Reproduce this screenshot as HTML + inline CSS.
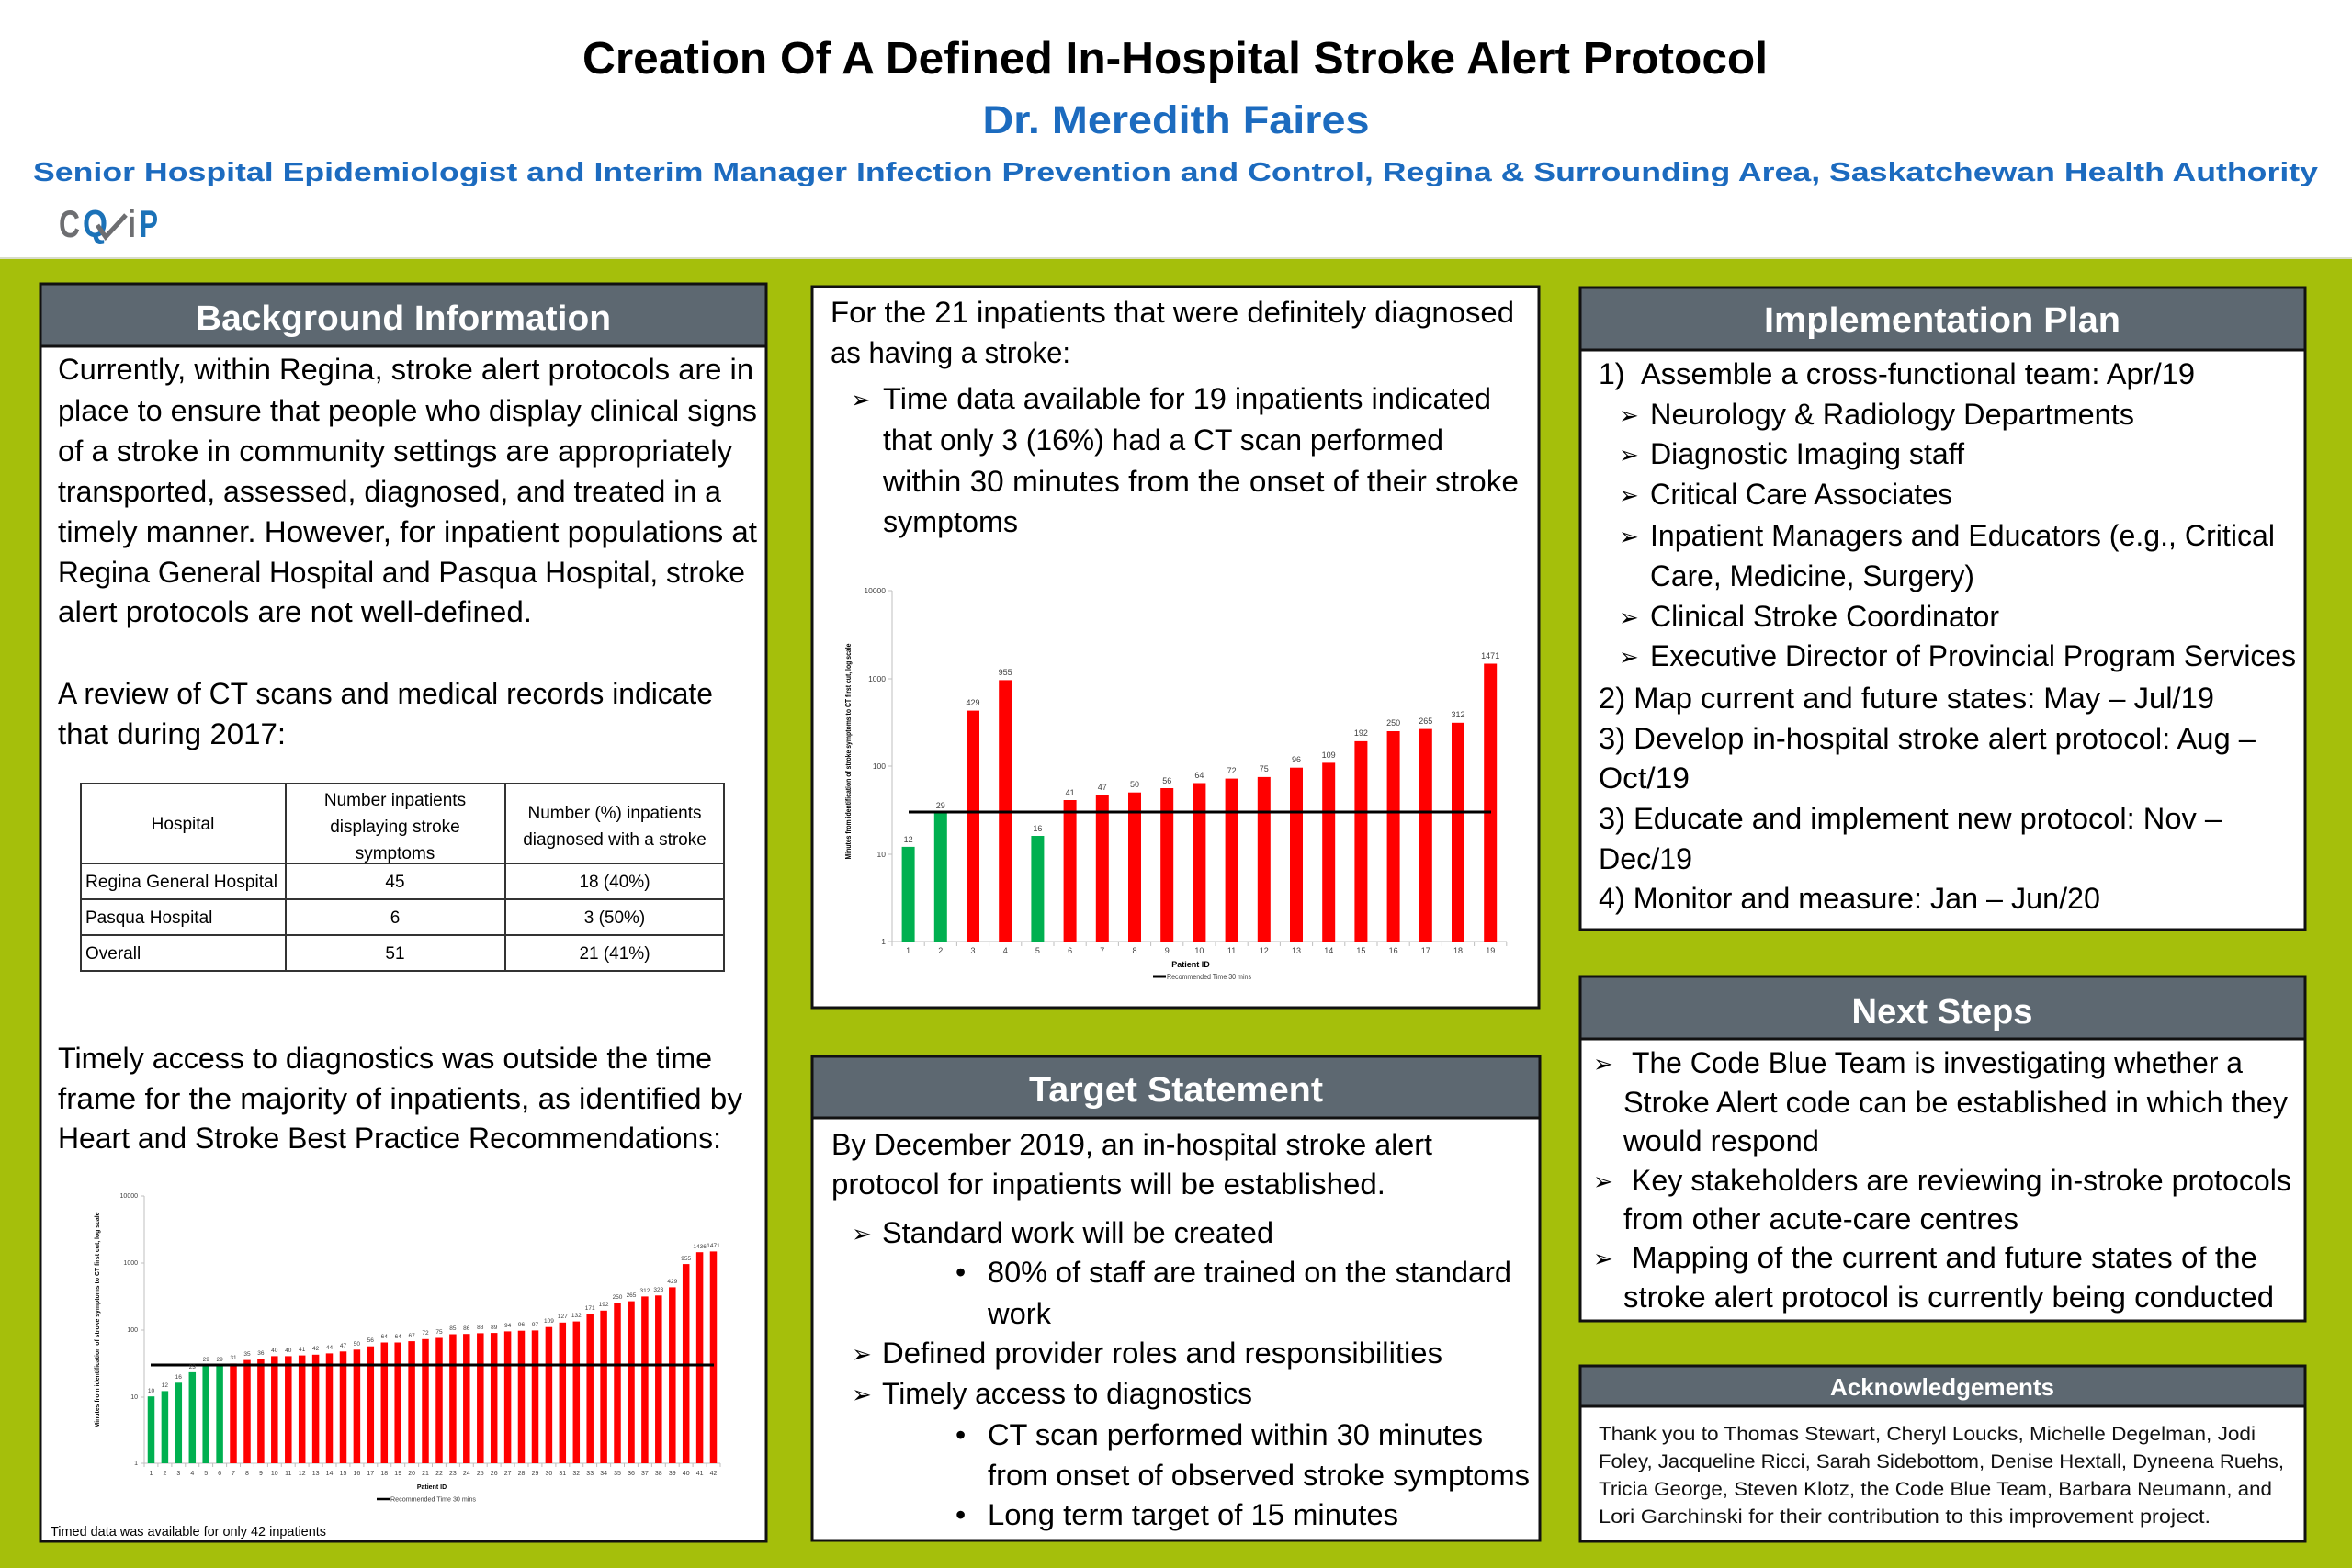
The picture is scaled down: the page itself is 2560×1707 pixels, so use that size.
<!DOCTYPE html>
<html><head><meta charset="utf-8"><style>
html,body{margin:0;padding:0;background:#fff;}
svg{display:block;}
.t{font-family:"Liberation Sans",Arial,sans-serif;font-size:32px;fill:#000;}
.h{font-family:"Liberation Sans",Arial,sans-serif;font-weight:bold;font-size:38px;fill:#fff;}
.ar{font-family:"DejaVu Sans",sans-serif;font-size:26px;fill:#000;}
.tb{font-family:"Liberation Sans",Arial,sans-serif;font-size:19px;fill:#000;}
.ck{font-family:"Liberation Sans",Arial,sans-serif;font-size:21px;fill:#111;}
.c1{font-family:"Liberation Sans",Arial,sans-serif;font-size:9px;fill:#404040;}
.c2{font-family:"Liberation Sans",Arial,sans-serif;font-size:7px;fill:#404040;}
</style></head><body>
<svg width="2560" height="1707" viewBox="0 0 2560 1707" xmlns="http://www.w3.org/2000/svg">
<rect x="0" y="0" width="2560" height="1707" fill="#fff"/>
<rect x="0" y="281" width="2560" height="1426" fill="#a5bf0b"/>
<line x1="0" y1="281" x2="2560" y2="281" stroke="#d8dcc8" stroke-width="2"/>

<!-- Header -->
<text x="1279" y="80" text-anchor="middle" textLength="1290" lengthAdjust="spacingAndGlyphs" style="font-family:'Liberation Sans',Arial,sans-serif;font-weight:bold;font-size:49px;fill:#000;">Creation Of A Defined In-Hospital Stroke Alert Protocol</text>
<text x="1280" y="145" text-anchor="middle" textLength="421" lengthAdjust="spacingAndGlyphs" style="font-family:'Liberation Sans',Arial,sans-serif;font-weight:bold;font-size:43px;fill:#1c6bbf;">Dr. Meredith Faires</text>
<text x="36" y="197" textLength="2487" lengthAdjust="spacingAndGlyphs" style="font-family:'Liberation Sans',Arial,sans-serif;font-weight:bold;font-size:29px;fill:#1c6bbf;">Senior Hospital Epidemiologist and Interim Manager Infection Prevention and Control, Regina &amp; Surrounding Area, Saskatchewan Health Authority</text>

<!-- Logo -->
<g style="font-family:'Liberation Sans',Arial,sans-serif;font-weight:bold;font-size:42px;">
<text x="64" y="258" textLength="23" lengthAdjust="spacingAndGlyphs" fill="#6d6e71">C</text>
<text x="90" y="258" textLength="27" lengthAdjust="spacingAndGlyphs" fill="#1b72b8">Q</text>
<text x="139" y="258" textLength="9" lengthAdjust="spacingAndGlyphs" fill="#6d6e71">i</text>
<text x="152" y="258" textLength="20" lengthAdjust="spacingAndGlyphs" fill="#1b72b8">P</text>
</g>
<polyline points="106,245 115,258 137,234" fill="none" stroke="#6d6e71" stroke-width="5"/>

<!-- ============ LEFT PANEL ============ -->
<rect x="44" y="309" width="790" height="1369" fill="#fff" stroke="#111" stroke-width="3"/>
<rect x="44" y="309" width="790" height="68" fill="#5d6871" stroke="#111" stroke-width="3"/>
<text class="h" x="439" y="359" text-anchor="middle" textLength="452" lengthAdjust="spacingAndGlyphs">Background Information</text>

<g class="t">
<text x="63" y="413" textLength="757" lengthAdjust="spacingAndGlyphs">Currently, within Regina, stroke alert protocols are in</text>
<text x="63" y="458" textLength="761" lengthAdjust="spacingAndGlyphs">place to ensure that people who display clinical signs</text>
<text x="63" y="502" textLength="734" lengthAdjust="spacingAndGlyphs">of a stroke in community settings are appropriately</text>
<text x="63" y="546" textLength="722" lengthAdjust="spacingAndGlyphs">transported, assessed, diagnosed, and treated in a</text>
<text x="63" y="590" textLength="761" lengthAdjust="spacingAndGlyphs">timely manner. However, for inpatient populations at</text>
<text x="63" y="634" textLength="748" lengthAdjust="spacingAndGlyphs">Regina General Hospital and Pasqua Hospital, stroke</text>
<text x="63" y="677" textLength="516" lengthAdjust="spacingAndGlyphs">alert protocols are not well-defined.</text>
<text x="63" y="766" textLength="713" lengthAdjust="spacingAndGlyphs">A review of CT scans and medical records indicate</text>
<text x="63" y="810" textLength="248" lengthAdjust="spacingAndGlyphs">that during 2017:</text>
<text x="63" y="1163" textLength="712" lengthAdjust="spacingAndGlyphs">Timely access to diagnostics was outside the time</text>
<text x="63" y="1207" textLength="745" lengthAdjust="spacingAndGlyphs">frame for the majority of inpatients, as identified by</text>
<text x="63" y="1250" textLength="722" lengthAdjust="spacingAndGlyphs">Heart and Stroke Best Practice Recommendations:</text>
</g>

<!-- Table -->
<g fill="none" stroke="#333" stroke-width="2">
<rect x="88" y="853" width="700" height="204"/>
<line x1="88" y1="940" x2="788" y2="940"/>
<line x1="88" y1="979" x2="788" y2="979"/>
<line x1="88" y1="1018" x2="788" y2="1018"/>
<line x1="311" y1="853" x2="311" y2="1057"/>
<line x1="550" y1="853" x2="550" y2="1057"/>
</g>
<g class="tb">
<text x="199" y="903" text-anchor="middle">Hospital</text>
<text x="430" y="877" text-anchor="middle">Number inpatients</text>
<text x="430" y="906" text-anchor="middle">displaying stroke</text>
<text x="430" y="935" text-anchor="middle">symptoms</text>
<text x="669" y="891" text-anchor="middle">Number (%) inpatients</text>
<text x="669" y="920" text-anchor="middle">diagnosed with a stroke</text>
<text x="93" y="966" textLength="209" lengthAdjust="spacingAndGlyphs">Regina General Hospital</text>
<text x="430" y="966" text-anchor="middle">45</text>
<text x="669" y="966" text-anchor="middle">18 (40%)</text>
<text x="93" y="1005">Pasqua Hospital</text>
<text x="430" y="1005" text-anchor="middle">6</text>
<text x="669" y="1005" text-anchor="middle">3 (50%)</text>
<text x="93" y="1044">Overall</text>
<text x="430" y="1044" text-anchor="middle">51</text>
<text x="669" y="1044" text-anchor="middle">21 (41%)</text>
</g>

<!-- Left chart -->
<g stroke="#bfbfbf" stroke-width="1" fill="none">
<line x1="157" y1="1302" x2="157" y2="1593"/>
<line x1="157" y1="1593" x2="784" y2="1593"/>
<path d="M153 1302h4M153 1375h4M153 1448h4M153 1521h4M153 1593h4"/>
<path d="M157 1593v4M171.9 1593v4M186.9 1593v4M201.8 1593v4M216.7 1593v4M231.6 1593v4M246.6 1593v4M261.5 1593v4M276.4 1593v4M291.4 1593v4M306.3 1593v4M321.2 1593v4M336.1 1593v4M351.1 1593v4M366 1593v4M380.9 1593v4M395.9 1593v4M410.8 1593v4M425.7 1593v4M440.7 1593v4M455.6 1593v4M470.5 1593v4M485.4 1593v4M500.4 1593v4M515.3 1593v4M530.2 1593v4M545.1 1593v4M560.1 1593v4M575 1593v4M589.9 1593v4M604.9 1593v4M619.8 1593v4M634.7 1593v4M649.6 1593v4M664.6 1593v4M679.5 1593v4M694.4 1593v4M709.4 1593v4M724.3 1593v4M739.2 1593v4M754.1 1593v4M769.1 1593v4M784 1593v4"/>
</g>
<g class="c2" text-anchor="end">
<text x="150" y="1304">10000</text><text x="150" y="1377">1000</text><text x="150" y="1450">100</text><text x="150" y="1523">10</text><text x="150" y="1595">1</text>
</g>
<g fill="#00b050">
<rect x="160.75" y="1520.2" width="7.5" height="72.8"/>
<rect x="175.65" y="1514.4" width="7.5" height="78.6"/>
<rect x="190.55" y="1505.3" width="7.5" height="87.7"/>
<rect x="205.55" y="1493.9" width="7.5" height="99.1"/>
<rect x="220.45" y="1486.5" width="7.5" height="106.5"/>
<rect x="235.35" y="1486.5" width="7.5" height="106.5"/>
</g>
<g fill="#ff0000">
<rect x="250.25" y="1484.4" width="7.5" height="108.6"/>
<rect x="265.25" y="1480.6" width="7.5" height="112.4"/>
<rect x="280.15" y="1479.7" width="7.5" height="113.3"/>
<rect x="295.05" y="1476.4" width="7.5" height="116.6"/>
<rect x="310.05" y="1476.4" width="7.5" height="116.6"/>
<rect x="324.95" y="1475.6" width="7.5" height="117.4"/>
<rect x="339.85" y="1474.8" width="7.5" height="118.2"/>
<rect x="354.75" y="1473.4" width="7.5" height="119.6"/>
<rect x="369.75" y="1471.3" width="7.5" height="121.7"/>
<rect x="384.65" y="1469.3" width="7.5" height="123.7"/>
<rect x="399.55" y="1465.7" width="7.5" height="127.3"/>
<rect x="414.55" y="1461.5" width="7.5" height="131.5"/>
<rect x="429.45" y="1461.5" width="7.5" height="131.5"/>
<rect x="444.35" y="1460.1" width="7.5" height="132.9"/>
<rect x="459.25" y="1457.8" width="7.5" height="135.2"/>
<rect x="474.25" y="1456.5" width="7.5" height="136.5"/>
<rect x="489.15" y="1452.5" width="7.5" height="140.5"/>
<rect x="504.05" y="1452.2" width="7.5" height="140.8"/>
<rect x="519.05" y="1451.4" width="7.5" height="141.6"/>
<rect x="533.95" y="1451.1" width="7.5" height="141.9"/>
<rect x="548.85" y="1449.4" width="7.5" height="143.6"/>
<rect x="563.75" y="1448.7" width="7.5" height="144.3"/>
<rect x="578.75" y="1448.4" width="7.5" height="144.6"/>
<rect x="593.65" y="1444.7" width="7.5" height="148.3"/>
<rect x="608.55" y="1439.8" width="7.5" height="153.2"/>
<rect x="623.55" y="1438.6" width="7.5" height="154.4"/>
<rect x="638.45" y="1430.4" width="7.5" height="162.6"/>
<rect x="653.35" y="1426.8" width="7.5" height="166.2"/>
<rect x="668.25" y="1418.4" width="7.5" height="174.6"/>
<rect x="683.25" y="1416.6" width="7.5" height="176.4"/>
<rect x="698.15" y="1411.4" width="7.5" height="181.6"/>
<rect x="713.05" y="1410.3" width="7.5" height="182.7"/>
<rect x="728.05" y="1401.4" width="7.5" height="191.6"/>
<rect x="742.95" y="1376.1" width="7.5" height="216.9"/>
<rect x="757.85" y="1363.2" width="7.5" height="229.8"/>
<rect x="772.75" y="1362.4" width="7.5" height="230.6"/>
</g>
<line x1="164" y1="1486" x2="777" y2="1486" stroke="#000" stroke-width="3"/>
<g class="c2" text-anchor="middle" style="font-size:6.5px">
<text x="164.5" y="1516">10</text><text x="179.4" y="1510">12</text><text x="194.3" y="1501">16</text><text x="209.3" y="1490">23</text><text x="224.2" y="1482">29</text><text x="239.1" y="1482">29</text>
<text x="254" y="1480">31</text><text x="269" y="1476">35</text><text x="283.9" y="1475">36</text><text x="298.8" y="1472">40</text><text x="313.8" y="1472">40</text><text x="328.7" y="1471">41</text>
<text x="343.6" y="1470">42</text><text x="358.5" y="1469">44</text><text x="373.5" y="1467">47</text><text x="388.4" y="1465">50</text><text x="403.3" y="1461">56</text><text x="418.3" y="1457">64</text>
<text x="433.2" y="1457">64</text><text x="448.1" y="1456">67</text><text x="463" y="1453">72</text><text x="478" y="1452">75</text><text x="492.9" y="1448">85</text><text x="507.8" y="1448">86</text>
<text x="522.8" y="1447">88</text><text x="537.7" y="1447">89</text><text x="552.6" y="1445">94</text><text x="567.5" y="1444">96</text><text x="582.5" y="1444">97</text><text x="597.4" y="1440">109</text>
<text x="612.3" y="1435">127</text><text x="627.3" y="1434">132</text><text x="642.2" y="1426">171</text><text x="657.1" y="1422">192</text><text x="672" y="1414">250</text><text x="687" y="1412">265</text>
<text x="701.9" y="1407">312</text><text x="716.8" y="1406">323</text><text x="731.8" y="1397">429</text><text x="746.7" y="1372">955</text><text x="761.6" y="1359">1436</text><text x="776.5" y="1358">1471</text>
</g>
<g class="c2" text-anchor="middle">
<text x="164.5" y="1606">1</text><text x="179.4" y="1606">2</text><text x="194.3" y="1606">3</text><text x="209.3" y="1606">4</text><text x="224.2" y="1606">5</text><text x="239.1" y="1606">6</text><text x="254" y="1606">7</text><text x="269" y="1606">8</text><text x="283.9" y="1606">9</text><text x="298.8" y="1606">10</text><text x="313.8" y="1606">11</text><text x="328.7" y="1606">12</text><text x="343.6" y="1606">13</text><text x="358.5" y="1606">14</text><text x="373.5" y="1606">15</text><text x="388.4" y="1606">16</text><text x="403.3" y="1606">17</text><text x="418.3" y="1606">18</text><text x="433.2" y="1606">19</text><text x="448.1" y="1606">20</text><text x="463" y="1606">21</text><text x="478" y="1606">22</text><text x="492.9" y="1606">23</text><text x="507.8" y="1606">24</text><text x="522.8" y="1606">25</text><text x="537.7" y="1606">26</text><text x="552.6" y="1606">27</text><text x="567.5" y="1606">28</text><text x="582.5" y="1606">29</text><text x="597.4" y="1606">30</text><text x="612.3" y="1606">31</text><text x="627.3" y="1606">32</text><text x="642.2" y="1606">33</text><text x="657.1" y="1606">34</text><text x="672" y="1606">35</text><text x="687" y="1606">36</text><text x="701.9" y="1606">37</text><text x="716.8" y="1606">38</text><text x="731.8" y="1606">39</text><text x="746.7" y="1606">40</text><text x="761.6" y="1606">41</text><text x="776.5" y="1606">42</text>
<text x="470" y="1621" style="font-weight:bold;fill:#000">Patient ID</text>
</g>
<line x1="410" y1="1632" x2="424" y2="1632" stroke="#000" stroke-width="2.5"/>
<text class="c2" x="425" y="1634.5" textLength="93" lengthAdjust="spacingAndGlyphs">Recommended Time 30 mins</text>
<text transform="translate(108,1437) rotate(-90)" text-anchor="middle" textLength="235" lengthAdjust="spacingAndGlyphs" style="font-family:'Liberation Sans',Arial,sans-serif;font-weight:bold;font-size:7px;fill:#000;">Minutes from identification of stroke symptoms to CT first cut, log scale</text>
<text x="55" y="1672" textLength="300" lengthAdjust="spacingAndGlyphs" style="font-family:'Liberation Sans',Arial,sans-serif;font-size:15px;fill:#000;">Timed data was available for only 42 inpatients</text>

<!-- ============ MIDDLE TOP PANEL ============ -->
<rect x="884" y="312" width="791" height="785" fill="#fff" stroke="#111" stroke-width="3"/>
<g class="t">
<text x="904" y="351" textLength="744" lengthAdjust="spacingAndGlyphs">For the 21 inpatients that were definitely diagnosed</text>
<text x="904" y="395" textLength="261" lengthAdjust="spacingAndGlyphs">as having a stroke:</text>
<text x="961" y="445" textLength="662" lengthAdjust="spacingAndGlyphs">Time data available for 19 inpatients indicated</text>
<text x="961" y="490" textLength="610" lengthAdjust="spacingAndGlyphs">that only 3 (16%) had a CT scan performed</text>
<text x="961" y="535" textLength="692" lengthAdjust="spacingAndGlyphs">within 30 minutes from the onset of their stroke</text>
<text x="961" y="579" textLength="147" lengthAdjust="spacingAndGlyphs">symptoms</text>
</g>
<text class="ar" x="926" y="444">➢</text>

<!-- Middle chart -->
<g stroke="#bfbfbf" stroke-width="1" fill="none">
<line x1="971" y1="643" x2="971" y2="1025"/>
<line x1="971" y1="1025" x2="1640" y2="1025"/>
<path d="M966 643h5M966 739h5M966 834h5M966 930h5M966 1025h5"/>
<path d="M971 1025v5M1006.2 1025v5M1041.4 1025v5M1076.6 1025v5M1111.8 1025v5M1147 1025v5M1182.2 1025v5M1217.4 1025v5M1252.6 1025v5M1287.8 1025v5M1323 1025v5M1358.2 1025v5M1393.4 1025v5M1428.6 1025v5M1463.8 1025v5M1499 1025v5M1534.2 1025v5M1569.4 1025v5M1604.6 1025v5M1639.8 1025v5"/>
</g>
<g class="c1" text-anchor="end" style="font-size:8.5px">
<text x="964" y="646">10000</text><text x="964" y="742">1000</text><text x="964" y="837">100</text><text x="964" y="933">10</text><text x="964" y="1028">1</text>
</g>
<g fill="#00b050">
<rect x="981.6" y="921.9" width="14" height="103.1"/>
<rect x="1016.8" y="885.3" width="14" height="139.7"/>
<rect x="1122.4" y="910" width="14" height="115"/>
</g>
<g fill="#ff0000">
<rect x="1052" y="773.6" width="14" height="251.4"/>
<rect x="1087.2" y="740.4" width="14" height="284.6"/>
<rect x="1157.6" y="871" width="14" height="154"/>
<rect x="1192.8" y="865.3" width="14" height="159.7"/>
<rect x="1228" y="862.7" width="14" height="162.3"/>
<rect x="1263.2" y="858" width="14" height="167"/>
<rect x="1298.4" y="852.5" width="14" height="172.5"/>
<rect x="1333.6" y="847.6" width="14" height="177.4"/>
<rect x="1368.8" y="845.9" width="14" height="179.1"/>
<rect x="1404" y="835.7" width="14" height="189.3"/>
<rect x="1439.2" y="830.4" width="14" height="194.6"/>
<rect x="1474.4" y="806.9" width="14" height="218.1"/>
<rect x="1509.6" y="796" width="14" height="229"/>
<rect x="1544.8" y="793.6" width="14" height="231.4"/>
<rect x="1580" y="786.8" width="14" height="238.2"/>
<rect x="1615.2" y="722.5" width="14" height="302.5"/>
</g>
<line x1="989" y1="884" x2="1623" y2="884" stroke="#000" stroke-width="3"/>
<g class="c1" text-anchor="middle">
<text x="988.6" y="917">12</text><text x="1023.8" y="880">29</text><text x="1059" y="768">429</text><text x="1094.2" y="735">955</text><text x="1129.4" y="905">16</text>
<text x="1164.6" y="866">41</text><text x="1199.8" y="860">47</text><text x="1235" y="857">50</text><text x="1270.2" y="853">56</text><text x="1305.4" y="847">64</text>
<text x="1340.6" y="842">72</text><text x="1375.8" y="840">75</text><text x="1411" y="830">96</text><text x="1446.2" y="825">109</text><text x="1481.4" y="801">192</text>
<text x="1516.6" y="790">250</text><text x="1551.8" y="788">265</text><text x="1587" y="781">312</text><text x="1622.2" y="717">1471</text>
</g>
<g class="c1" text-anchor="middle">
<text x="988.6" y="1038">1</text><text x="1023.8" y="1038">2</text><text x="1059" y="1038">3</text><text x="1094.2" y="1038">4</text><text x="1129.4" y="1038">5</text><text x="1164.6" y="1038">6</text><text x="1199.8" y="1038">7</text><text x="1235" y="1038">8</text><text x="1270.2" y="1038">9</text><text x="1305.4" y="1038">10</text><text x="1340.6" y="1038">11</text><text x="1375.8" y="1038">12</text><text x="1411" y="1038">13</text><text x="1446.2" y="1038">14</text><text x="1481.4" y="1038">15</text><text x="1516.6" y="1038">16</text><text x="1551.8" y="1038">17</text><text x="1587" y="1038">18</text><text x="1622.2" y="1038">19</text>
<text x="1296" y="1053" style="font-weight:bold;fill:#000">Patient ID</text>
</g>
<line x1="1255" y1="1063" x2="1269" y2="1063" stroke="#000" stroke-width="3"/>
<text class="c1" x="1270" y="1066" textLength="92" lengthAdjust="spacingAndGlyphs" style="font-size:8px">Recommended Time 30 mins</text>
<text transform="translate(926,818) rotate(-90)" text-anchor="middle" textLength="235" lengthAdjust="spacingAndGlyphs" style="font-family:'Liberation Sans',Arial,sans-serif;font-weight:bold;font-size:8px;fill:#000;">Minutes from identification of stroke symptoms to CT first cut, log scale</text>

<!-- ============ TARGET STATEMENT ============ -->
<rect x="884" y="1150" width="792" height="527" fill="#fff" stroke="#111" stroke-width="3"/>
<rect x="884" y="1150" width="792" height="67" fill="#5d6871" stroke="#111" stroke-width="3"/>
<text class="h" x="1280" y="1199" text-anchor="middle" textLength="320" lengthAdjust="spacingAndGlyphs">Target Statement</text>
<g class="t">
<text x="905" y="1257" textLength="654" lengthAdjust="spacingAndGlyphs">By December 2019, an in-hospital stroke alert</text>
<text x="905" y="1300" textLength="603" lengthAdjust="spacingAndGlyphs">protocol for inpatients will be established.</text>
<text x="960" y="1353" textLength="426" lengthAdjust="spacingAndGlyphs">Standard work will be created</text>
<text x="1040" y="1396">•</text>
<text x="1075" y="1396" textLength="570" lengthAdjust="spacingAndGlyphs">80% of staff are trained on the standard</text>
<text x="1075" y="1441" textLength="69" lengthAdjust="spacingAndGlyphs">work</text>
<text x="960" y="1484" textLength="610" lengthAdjust="spacingAndGlyphs">Defined provider roles and responsibilities</text>
<text x="960" y="1528" textLength="403" lengthAdjust="spacingAndGlyphs">Timely access to diagnostics</text>
<text x="1040" y="1573">•</text>
<text x="1075" y="1573" textLength="539" lengthAdjust="spacingAndGlyphs">CT scan performed within 30 minutes</text>
<text x="1075" y="1617" textLength="590" lengthAdjust="spacingAndGlyphs">from onset of observed stroke symptoms</text>
<text x="1040" y="1660">•</text>
<text x="1075" y="1660" textLength="447" lengthAdjust="spacingAndGlyphs">Long term target of 15 minutes</text>
</g>
<g class="ar">
<text x="927" y="1352">➢</text>
<text x="927" y="1483">➢</text>
<text x="927" y="1527">➢</text>
</g>

<!-- ============ IMPLEMENTATION PLAN ============ -->
<rect x="1720" y="313" width="789" height="699" fill="#fff" stroke="#111" stroke-width="3"/>
<rect x="1720" y="313" width="789" height="68" fill="#5d6871" stroke="#111" stroke-width="3"/>
<text class="h" x="2114" y="361" text-anchor="middle" textLength="388" lengthAdjust="spacingAndGlyphs">Implementation Plan</text>
<g class="t">
<text x="1740" y="418">1)</text>
<text x="1786" y="418" textLength="603" lengthAdjust="spacingAndGlyphs">Assemble a cross-functional team: Apr/19</text>
<text x="1796" y="462" textLength="527" lengthAdjust="spacingAndGlyphs">Neurology &amp; Radiology Departments</text>
<text x="1796" y="505" textLength="342" lengthAdjust="spacingAndGlyphs">Diagnostic Imaging staff</text>
<text x="1796" y="549" textLength="329" lengthAdjust="spacingAndGlyphs">Critical Care Associates</text>
<text x="1796" y="594" textLength="680" lengthAdjust="spacingAndGlyphs">Inpatient Managers and Educators (e.g., Critical</text>
<text x="1796" y="638" textLength="353" lengthAdjust="spacingAndGlyphs">Care, Medicine, Surgery)</text>
<text x="1796" y="682" textLength="380" lengthAdjust="spacingAndGlyphs">Clinical Stroke Coordinator</text>
<text x="1796" y="725" textLength="703" lengthAdjust="spacingAndGlyphs">Executive Director of Provincial Program Services</text>
<text x="1740" y="771" textLength="670" lengthAdjust="spacingAndGlyphs">2) Map current and future states: May – Jul/19</text>
<text x="1740" y="815" textLength="715" lengthAdjust="spacingAndGlyphs">3) Develop in-hospital stroke alert protocol: Aug –</text>
<text x="1740" y="858" textLength="99" lengthAdjust="spacingAndGlyphs">Oct/19</text>
<text x="1740" y="902" textLength="678" lengthAdjust="spacingAndGlyphs">3) Educate and implement new protocol: Nov –</text>
<text x="1740" y="946" textLength="102" lengthAdjust="spacingAndGlyphs">Dec/19</text>
<text x="1740" y="989" textLength="546" lengthAdjust="spacingAndGlyphs">4) Monitor and measure: Jan – Jun/20</text>
</g>
<g class="ar">
<text x="1762" y="461">➢</text>
<text x="1762" y="504">➢</text>
<text x="1762" y="548">➢</text>
<text x="1762" y="593">➢</text>
<text x="1762" y="681">➢</text>
<text x="1762" y="724">➢</text>
</g>

<!-- ============ NEXT STEPS ============ -->
<rect x="1720" y="1063" width="789" height="375" fill="#fff" stroke="#111" stroke-width="3"/>
<rect x="1720" y="1063" width="789" height="68" fill="#5d6871" stroke="#111" stroke-width="3"/>
<text class="h" x="2114" y="1114" text-anchor="middle" textLength="197" lengthAdjust="spacingAndGlyphs">Next Steps</text>
<g class="t">
<text x="1776" y="1168" textLength="665" lengthAdjust="spacingAndGlyphs">The Code Blue Team is investigating whether a</text>
<text x="1767" y="1211" textLength="723" lengthAdjust="spacingAndGlyphs">Stroke Alert code can be established in which they</text>
<text x="1767" y="1253" textLength="213" lengthAdjust="spacingAndGlyphs">would respond</text>
<text x="1776" y="1296" textLength="718" lengthAdjust="spacingAndGlyphs">Key stakeholders are reviewing in-stroke protocols</text>
<text x="1767" y="1338" textLength="430" lengthAdjust="spacingAndGlyphs">from other acute-care centres</text>
<text x="1776" y="1380" textLength="681" lengthAdjust="spacingAndGlyphs">Mapping of the current and future states of the</text>
<text x="1767" y="1423" textLength="708" lengthAdjust="spacingAndGlyphs">stroke alert protocol is currently being conducted</text>
</g>
<g class="ar">
<text x="1734" y="1167">➢</text>
<text x="1734" y="1295">➢</text>
<text x="1734" y="1379">➢</text>
</g>

<!-- ============ ACKNOWLEDGEMENTS ============ -->
<rect x="1720" y="1487" width="789" height="191" fill="#fff" stroke="#111" stroke-width="3"/>
<rect x="1720" y="1487" width="789" height="44" fill="#5d6871" stroke="#111" stroke-width="3"/>
<text class="h" x="2114" y="1519" text-anchor="middle" textLength="244" lengthAdjust="spacingAndGlyphs" style="font-size:26px">Acknowledgements</text>
<g class="ck">
<text x="1740" y="1568" textLength="715" lengthAdjust="spacingAndGlyphs">Thank you to Thomas Stewart, Cheryl Loucks,  Michelle Degelman, Jodi</text>
<text x="1740" y="1598" textLength="746" lengthAdjust="spacingAndGlyphs">Foley, Jacqueline Ricci, Sarah Sidebottom, Denise Hextall, Dyneena Ruehs,</text>
<text x="1740" y="1628" textLength="733" lengthAdjust="spacingAndGlyphs">Tricia  George, Steven Klotz, the Code Blue Team, Barbara Neumann, and</text>
<text x="1740" y="1658" textLength="666" lengthAdjust="spacingAndGlyphs">Lori Garchinski for their contribution to this improvement project.</text>
</g>
</svg>
</body></html>
